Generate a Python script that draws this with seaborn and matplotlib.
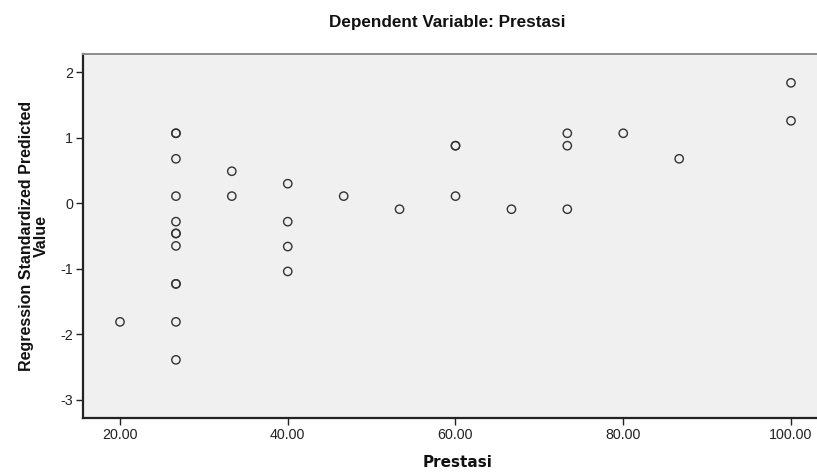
"""
Scatter of regression standardized predicted value against Prestasi,
styled after the SPSS output chart.
"""

import matplotlib
matplotlib.use("Agg")
import matplotlib.pyplot as plt
import pandas as pd
import seaborn as sns

# values
prestasi = [
    20.00,
    26.67, 26.67, 26.67, 26.67, 26.67, 26.67, 26.67, 26.67,
    26.67, 26.67, 26.67, 26.67,
    33.33, 33.33,
    40.00, 40.00, 40.00, 40.00,
    46.67,
    53.33,
    60.00, 60.00, 60.00,
    66.67,
    73.33, 73.33, 73.33,
    80.00,
    86.67,
    100.00, 100.00,
]
predicted = [
    -1.81,
    1.07, 1.07, 0.68, 0.11, -0.28, -0.46, -0.46, -0.65,
    -1.23, -1.23, -1.81, -2.39,
    0.49, 0.11,
    0.30, -0.28, -0.66, -1.04,
    0.11,
    -0.09,
    0.88, 0.88, 0.11,
    -0.09,
    1.07, 0.88, -0.09,
    1.07,
    0.68,
    1.84, 1.26,
]
x_ticks = [20, 40, 60, 80, 100]
x_tick_labels = ["20.00", "40.00", "60.00", "80.00", "100.00"]
y_ticks = [-3, -2, -1, 0, 1, 2]

TITLE = "Dependent Variable: Prestasi"
X_LABEL = "Prestasi"
Y_LABEL = "Regression Standardized Predicted\nValue"


def main():
    sns.set_theme(style="white")
    plt.rcParams["font.family"] = ["Liberation Sans", "DejaVu Sans"]

    df = pd.DataFrame({"Prestasi": prestasi, "Predicted": predicted})

    fig = plt.figure(figsize=(8.17, 4.73), dpi=100)
    ax = fig.add_axes([0.1016, 0.1163, 0.8984, 0.7695])
    ax.set_facecolor("#f0f0f0")

    sns.scatterplot(data=df, x="Prestasi", y="Predicted", ax=ax,
                    marker="o", s=36, facecolors="none",
                    edgecolor="#333333", linewidth=1.0)

    ax.set_xlim(15.59, 103.1)
    ax.set_ylim(-3.278, 2.28)
    ax.set_xticks(x_ticks)
    ax.set_xticklabels(x_tick_labels)
    ax.set_yticks(y_ticks)
    ax.set_yticklabels([str(t) for t in y_ticks])
    ax.tick_params(axis="both", direction="out", length=5, width=1,
                   color="#222222", labelsize=10.3, labelcolor="#222222",
                   pad=2, left=True, bottom=True)

    for side in ("left", "bottom"):
        ax.spines[side].set_color("#222222")
        ax.spines[side].set_linewidth(1.6)
    ax.spines["top"].set_color("#8c8c8c")
    ax.spines["top"].set_linewidth(1.4)
    ax.spines["right"].set_visible(False)

    ax.set_xlabel(X_LABEL, fontsize=11, fontweight="bold",
                  family="DejaVu Sans", color="#111111")
    ax.xaxis.set_label_coords(0.5098, -0.102)
    ax.set_ylabel(Y_LABEL, fontsize=11.5, fontweight="bold",
                  linespacing=1.0, color="#111111")
    ax.yaxis.set_label_coords(-0.046, 0.5)

    fig.text(0.547, 0.953, TITLE, ha="center", va="center",
             fontsize=12.3, fontweight="bold", color="#111111")

    fig.savefig("out.png", dpi=100)
    plt.close(fig)


if __name__ == "__main__":
    main()
